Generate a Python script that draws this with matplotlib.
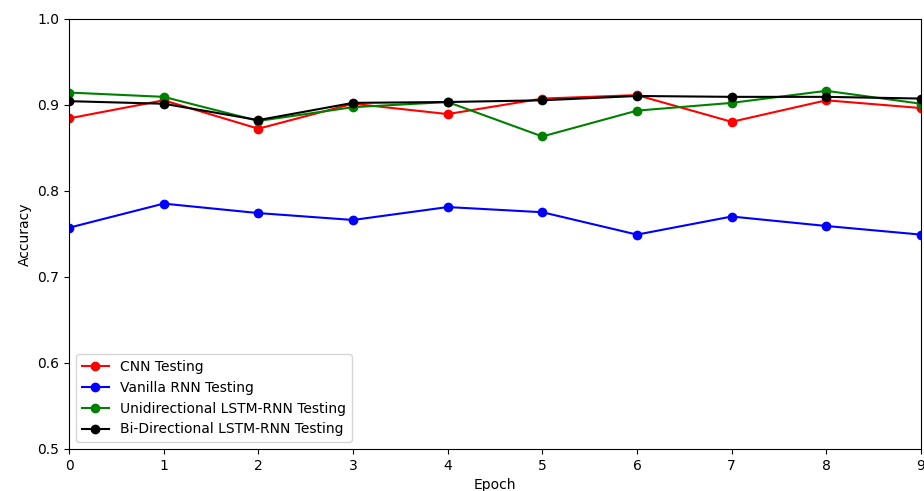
import numpy as np
import matplotlib
matplotlib.use("Agg")
import matplotlib.pyplot as plt

epochs = np.arange(10)
cnn = [0.884, 0.905, 0.872, 0.901, 0.889, 0.907, 0.911, 0.880, 0.905, 0.896]
vanilla_rnn = [0.757, 0.785, 0.774, 0.766, 0.781, 0.775, 0.749, 0.770, 0.759, 0.749]
uni_lstm = [0.914, 0.909, 0.881, 0.897, 0.903, 0.863, 0.893, 0.902, 0.916, 0.901]
bi_lstm = [0.904, 0.901, 0.882, 0.902, 0.903, 0.905, 0.910, 0.909, 0.909, 0.907]

fig = plt.figure(figsize=(9.24, 4.91), dpi=100)
ax = fig.add_axes([69 / 924, 42 / 491, 852 / 924, 430.5 / 491])

ax.plot(epochs, cnn, color='red', marker='o', label='CNN Testing')
ax.plot(epochs, vanilla_rnn, color='blue', marker='o', label='Vanilla RNN Testing')
ax.plot(epochs, uni_lstm, color='green', marker='o', label='Unidirectional LSTM-RNN Testing')
ax.plot(epochs, bi_lstm, color='black', marker='o', label='Bi-Directional LSTM-RNN Testing')

ax.set_xlim(0, 9)
ax.set_ylim(0.5, 1.0)
ax.set_xticks(epochs)
ax.set_yticks([0.5, 0.6, 0.7, 0.8, 0.9, 1.0])
ax.set_xlabel('Epoch')
ax.set_ylabel('Accuracy')
ax.legend(loc='lower left')

fig.savefig("out.png", dpi=100)
